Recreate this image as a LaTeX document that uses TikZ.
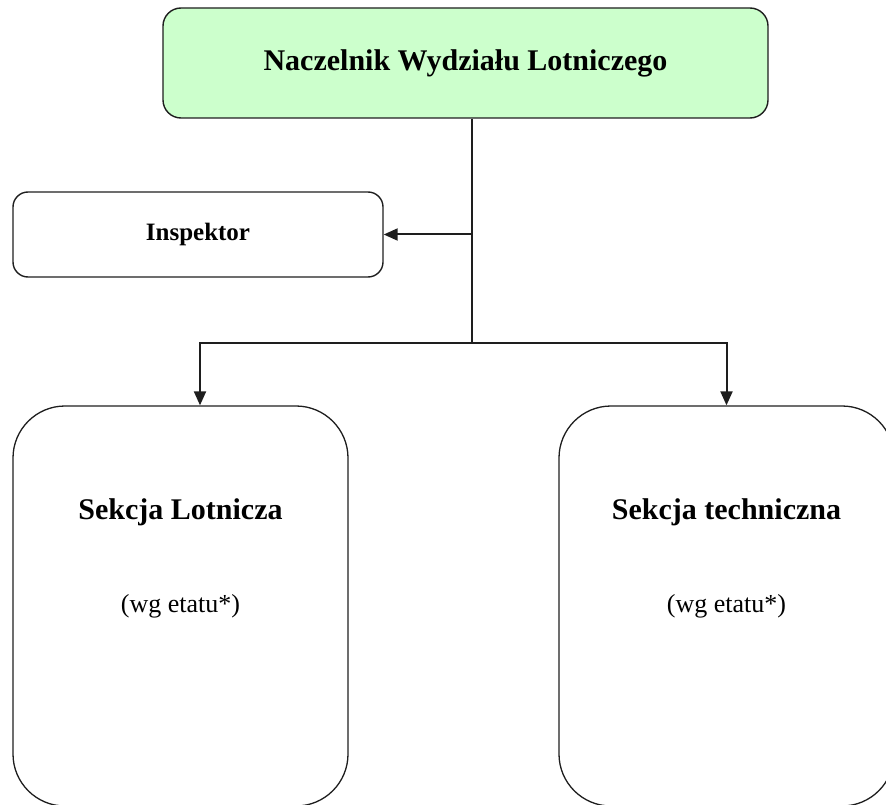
\documentclass[tikz,border=0pt]{standalone}
\usepackage{fontspec}
\setmainfont{Liberation Serif}
\usetikzlibrary{positioning, calc, arrows.meta}
\tikzset{>={Triangle[length=14pt, width=12pt]}}
\definecolor{chiefgreen}{HTML}{CCFFCC}
\definecolor{edge}{HTML}{1E1E1E}

\begin{document}
\begin{tikzpicture}
    [x=1pt, y=-1pt,
      box/.style={draw=edge, line width=1.4pt, rounded corners=18pt},
      section/.style={draw=edge, line width=1.3pt, rounded corners=52pt,
        minimum width=335pt, minimum height=400pt},
      title/.style={anchor=base, font=\fontsize{30}{36}\selectfont\bfseries},
      note/.style={anchor=base, font=\fontsize{26}{31}\selectfont},
      link/.style={draw=edge, line width=2pt}]

    \useasboundingbox (0,0) rectangle (886,805);

    \node[box, fill=chiefgreen, minimum width=605pt, minimum height=110pt,
      font=\fontsize{30}{36}\selectfont\bfseries] (chief) at (465.5,63)
      {Naczelnik Wydziału Lotniczego};

    \node[box, rounded corners=15pt, minimum width=370pt, minimum height=85pt,
      font=\fontsize{25}{30}\selectfont\bfseries] (insp) at (198,234.5) {Inspektor};

    \node[section] (lot) at (180.5,606) {};
    \node[section] (tech) at (726.5,606) {};

    \node[title] (lot-name) at ([yshift=-114pt]lot.north) {Sekcja Lotnicza};
    \node[note] (lot-note) at ([yshift=-207pt]lot.north) {(wg etatu*)};
    \node[title] (tech-name) at ([yshift=-114pt]tech.north) {Sekcja techniczna};
    \node[note] (tech-note) at ([yshift=-207pt]tech.north) {(wg etatu*)};

    \coordinate (fork) at (472,343);
    \coordinate (tap) at (472,234.5);

    \draw[link] (fork |- chief.south) -- (fork);
    \draw[link, ->] (tap) -- (insp.east);
    \draw[link, ->] (fork) -| ([xshift=19.5pt]lot.north);
    \draw[link, ->] (fork) -| (tech.north);
\end{tikzpicture}
\end{document}
